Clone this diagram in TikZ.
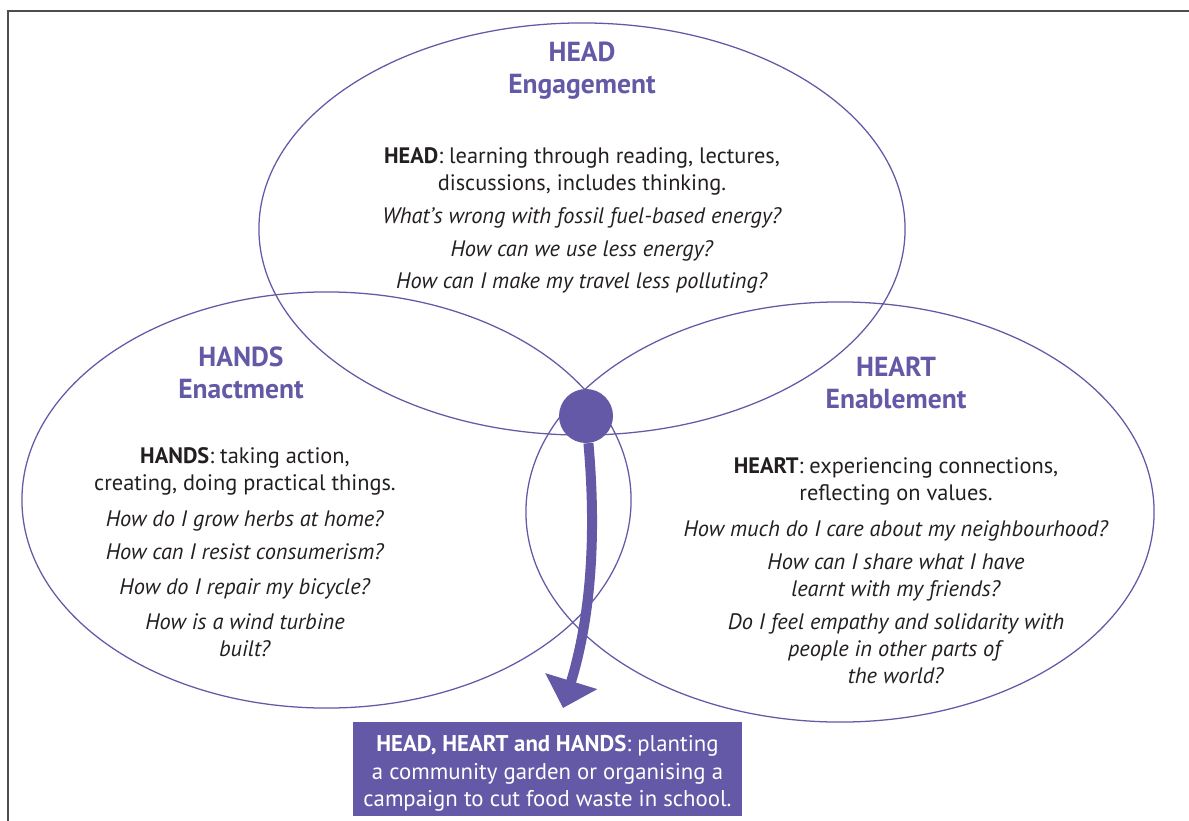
\documentclass[tikz,border=0pt]{standalone}
\usepackage{fontspec}
\setmainfont{PT Sans}
\usetikzlibrary{arrows.meta}
\definecolor{purp}{HTML}{6359A6}
\definecolor{ink}{HTML}{231F20}
\definecolor{framegray}{HTML}{4D4D4D}

\begin{document}
\begin{tikzpicture}[x=0.025cm,y=-0.025cm,
  ring/.style={draw=purp,line width=0.9pt},
  title/.style={text=purp,font=\fontsize{19.6}{22.8}\selectfont\bfseries,align=center,inner sep=0pt,anchor=north},
  body/.style={text=ink,font=\fontsize{15.9}{19.2}\selectfont,align=center,inner sep=0pt,anchor=north},
  outcome/.style={fill=purp,text=white,font=\fontsize{16.2}{19.6}\selectfont,align=center,
    minimum width=9.725cm,minimum height=2.35cm,inner sep=0pt,anchor=north},
  hubdot/.style={circle,fill=purp,minimum size=1.35cm,inner sep=0pt},
  flow/.style={draw=purp,line width=7.1pt,-{Triangle[length=20pt,width=37.5pt]}}
]
\useasboundingbox (0,0) rectangle (1189,821);

% frame (open at right and bottom)
\draw[framegray,line width=1.4pt] (8,821) -- (8,11) -- (1189,11);

% the three circles
\draw[ring] (582,229) ellipse [x radius=8.075cm, y radius=5.15cm];
\draw[ring] (326.5,500) ellipse [x radius=7.6125cm, y radius=5.2cm];
\draw[ring] (840,512) ellipse [x radius=7.85cm, y radius=5.25cm];

% HEAD
\node[title] (headT) at (582,42) {HEAD\\Engagement};
\node[body] (headB) at (582,147) {\textbf{HEAD}: learning through reading, lectures,\\
  discussions, includes thinking.\\[4.6pt]
  \textit{What’s wrong with fossil fuel-based energy?}\\[3.9pt]
  \textit{How can we use less energy?}\\[3.9pt]
  \textit{How can I make my travel less polluting?}};

% HANDS
\node[title] (handsT) at (241,346.5) {HANDS\\Enactment};
\node[body] (handsB) at (245,447) {\textbf{HANDS}: taking action,\\
  creating, doing practical things.\\[6.9pt]
  \textit{How do I grow herbs at home?}\\[4.3pt]
  \textit{How can I resist consumerism?}\\[5pt]
  \textit{How do I repair my bicycle?}\\[5.7pt]
  \textit{How is a wind turbine}\\
  \textit{built?}};

% HEART
\node[title] (heartT) at (896,357) {HEART\\Enablement};
\node[body] (heartB) at (896,457.5) {\textbf{HEART}: experiencing connections,\\
  reflecting on values.\\[6.4pt]
  \textit{How much do I care about my neighbourhood?}\\[4.3pt]
  \textit{How can I share what I have}\\
  \textit{learnt with my friends?}\\[4.3pt]
  \textit{Do I feel empathy and solidarity with}\\
  \textit{people in other parts of}\\
  \textit{the world?}};

% centre and outcome
\node[hubdot] (hub) at (586,416) {};
\node[outcome] (result) at (547.5,722) {\rule{0pt}{17.6pt}\textbf{HEAD, HEART and HANDS}: planting\\
  a community garden or organising a\\
  campaign to cut food waste in school.};

\draw[flow] (hub) .. controls (597,540) and (590,620) .. ([shift={(15.5,-14)}]result.north);
\end{tikzpicture}
\end{document}
